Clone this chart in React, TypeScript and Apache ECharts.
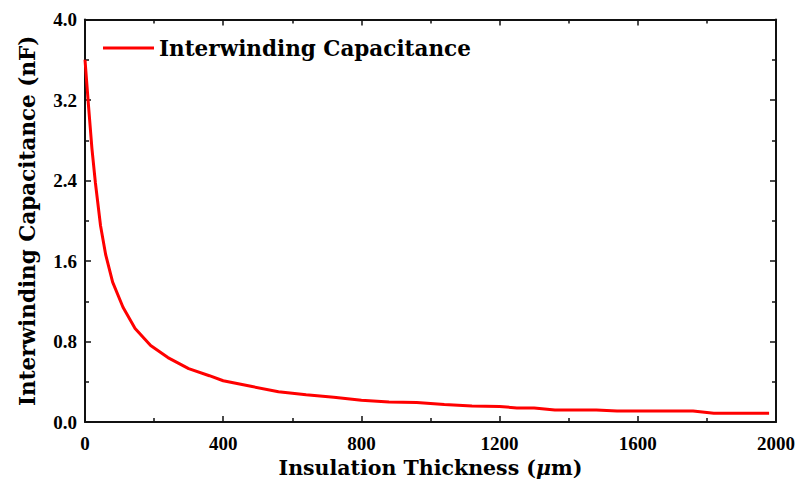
import React, { useEffect, useRef } from "react";
import * as echarts from "echarts";

// Insulation thickness (µm) and the resulting interwinding capacitance (nF)
const thickness = [
  0, 10, 20, 30, 45, 60, 80, 110, 145, 190, 240, 300, 360, 400, 480, 560, 640,
  720, 800, 880, 960, 1040, 1120, 1200, 1250, 1300, 1360, 1480, 1540, 1760,
  1820, 1980,
];
const capacitance = [
  3.6, 3.15, 2.72, 2.38, 1.95, 1.66, 1.39, 1.14, 0.93, 0.76, 0.64, 0.53, 0.46,
  0.41, 0.355, 0.3, 0.27, 0.245, 0.215, 0.198, 0.193, 0.175, 0.16, 0.155, 0.14,
  0.14, 0.12, 0.12, 0.11, 0.11, 0.088, 0.088,
];
const seriesName = "Interwinding Capacitance";
const xTitle = "Insulation Thickness ({i|μ}m)";
const yTitle = "Interwinding Capacitance (nF)";

const axisColor = "#111";
const tickFont = {
  fontFamily: "Liberation Serif",
  fontWeight: "bold" as const,
  fontSize: 19,
  color: "#000",
};
const titleFont = "DejaVu Serif";
const titleSize = 21.5;
const xTitleSize = 20.5;

export default function App() {
  const ref = useRef<HTMLDivElement>(null);

  useEffect(() => {
    if (!ref.current) return;
    const chart = echarts.init(ref.current, undefined, { renderer: "svg" });
    const data = thickness.map((x, i) => [x, capacitance[i]]);

    const boxAxis = {
      axisLine: { show: true, onZero: false, lineStyle: { color: axisColor, width: 2 } },
      axisTick: { show: true, inside: true, length: 6, lineStyle: { color: axisColor, width: 1.5 } },
      minorTick: { show: true, splitNumber: 2, length: 4, lineStyle: { color: axisColor, width: 1.5 } },
      splitLine: { show: false },
    };

    chart.setOption({
      animation: false,
      backgroundColor: "#fff",
      grid: {
        left: 85,
        right: 22,
        top: 19.5,
        bottom: 60,
        containLabel: false,
        outerBoundsMode: "none",
      },
      legend: {
        show: true,
        left: 98,
        top: 32,
        icon: "rect",
        itemWidth: 51,
        itemHeight: 3,
        itemGap: 6,
        textStyle: {
          fontFamily: titleFont,
          fontWeight: "bold",
          fontSize: titleSize,
          color: "#000",
          padding: [0, 0, 0, 0],
        },
        data: [seriesName],
      },
      xAxis: [
        {
          type: "value",
          min: 0,
          max: 2000,
          interval: 400,
          position: "bottom",
          ...boxAxis,
          axisLabel: { ...tickFont, margin: 12, formatter: (v: number) => String(v) },
          name: xTitle,
          nameLocation: "middle",
          nameGap: 32,
          nameTextStyle: {
            fontFamily: titleFont,
            fontWeight: "bold",
            fontSize: xTitleSize,
            color: "#000",
            rich: {
              i: { fontFamily: titleFont, fontStyle: "italic", fontWeight: "bold", fontSize: xTitleSize, color: "#000" },
            },
          },
        },
        {
          type: "value",
          min: 0,
          max: 2000,
          interval: 400,
          position: "top",
          ...boxAxis,
          axisLabel: { show: false },
        },
      ],
      yAxis: [
        {
          type: "value",
          min: 0,
          max: 4,
          interval: 0.8,
          position: "left",
          ...boxAxis,
          axisLabel: {
            ...tickFont,
            margin: 8,
            formatter: (v: number) => v.toFixed(1),
          },
          name: yTitle,
          nameLocation: "middle",
          nameGap: 47,
          nameTextStyle: {
            fontFamily: titleFont,
            fontWeight: "bold",
            fontSize: titleSize,
            color: "#000",
          },
        },
        {
          type: "value",
          min: 0,
          max: 4,
          interval: 0.8,
          position: "right",
          ...boxAxis,
          axisLabel: { show: false },
        },
      ],
      series: [
        {
          name: seriesName,
          type: "line",
          data,
          showSymbol: false,
          symbol: "none",
          lineStyle: { color: "#ff0000", width: 3 },
          itemStyle: { color: "#ff0000" },
        },
      ],
    });

    return () => chart.dispose();
  }, []);

  return <div ref={ref} style={{ width: 798, height: 482, position: "absolute", left: 0, top: 0 }} />;
}
